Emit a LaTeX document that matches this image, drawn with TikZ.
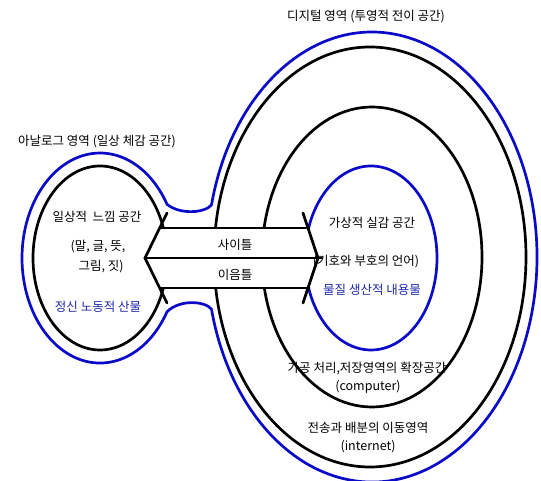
\documentclass[tikz,border=0pt]{standalone}
\usepackage{fontspec}
\setmainfont{Noto Sans CJK KR}
\definecolor{lineblue}{RGB}{10,10,200}
\definecolor{textblue}{RGB}{30,40,170}
\begin{document}
\begin{tikzpicture}[x=1pt,y=1pt,
  lbl/.style={inner sep=0pt,font=\fontsize{12.5}{14}\selectfont},
  bluelbl/.style={lbl,text=textblue},
  blk/.style={draw=black,line width=2.7pt},
  blu/.style={draw=lineblue,line width=2.7pt},
  arrowline/.style={draw=black,line width=2.7pt,line cap=round}]
\useasboundingbox[fill=white] (0,0) rectangle (541,481);
% outer blue outline (analog + digital joined)
\draw[blu,line join=round] (211.5,276.1)
  arc[start angle=166.6,end angle=-166.6,x radius=165,y radius=225]
  .. controls (205,180) and (180,182) .. (167,169.2)
  arc[start angle=-30.8,end angle=-329.2,x radius=78,y radius=105]
  .. controls (180,266) and (205,268) .. cycle;
% left black ellipse
\draw[blk] (100,223) ellipse [x radius=67,y radius=92];
% digital rings
\draw[blk] (370,224) ellipse [x radius=156,y radius=210];
\draw[blk] (372,224) ellipse [x radius=110,y radius=150];
\draw[blu] (371,223) ellipse [x radius=66,y radius=92];
% double arrow band
\fill[white] (160,253) -- (309,253) -- (318,223) -- (309,193) -- (160,193) -- (145,223) -- cycle;
\coordinate (lt) at (167,268);
\coordinate (ltip) at (145,223);
\coordinate (lb) at (167,178);
\coordinate (rt) at (303,268);
\coordinate (rtip) at (318,223);
\coordinate (rb) at (303,178);
\coordinate (t1) at (160,253);
\coordinate (t2) at (309,253);
\coordinate (b1) at (160,193);
\coordinate (b2) at (309,193);
\coordinate (m2) at (322,223);
\draw[arrowline] (lt) -- (ltip) -- (lb);
\draw[arrowline] (rt) -- (rtip) -- (rb);
\draw[arrowline] (t1) -- (t2);
\draw[arrowline] (b1) -- (b2);
\draw[arrowline] (ltip) -- (m2);
% labels
\node[lbl] (digital) at (366,464) {디지털 영역 (투영적 전이 공간)};
\node[lbl] (analog) at (97,339) {아날로그 영역 (일상 체감 공간)};
\node[lbl] (daily) at (97,264) {일상적\ \ 느낌 공간};
\node[lbl] (words1) at (98,234) {(말, 글, 뜻,};
\node[lbl] (words2) at (101,214) {그림, 짓)};
\node[bluelbl] (mental) at (98,174) {정신 노동적 산물};
\node[lbl] (between) at (235,236) {사이틀};
\node[lbl] (join) at (235,206) {이음틀};
\node[lbl] (virtual) at (372,258) {가상적 실감 공간};
\node[lbl] (signs) at (366,219) {(기호와 부호의 언어)};
\node[bluelbl] (material) at (372,191) {물질 생산적 내용물};
\node[lbl] (proc) at (367,113) {가공 처리,저장영역의 확장공간};
\node[lbl] (comp) at (368,94) {(computer)};
\node[lbl] (trans) at (368,53) {전송과 배분의 이동영역};
\node[lbl] (inet) at (368,34) {(internet)};
\end{tikzpicture}
\end{document}
